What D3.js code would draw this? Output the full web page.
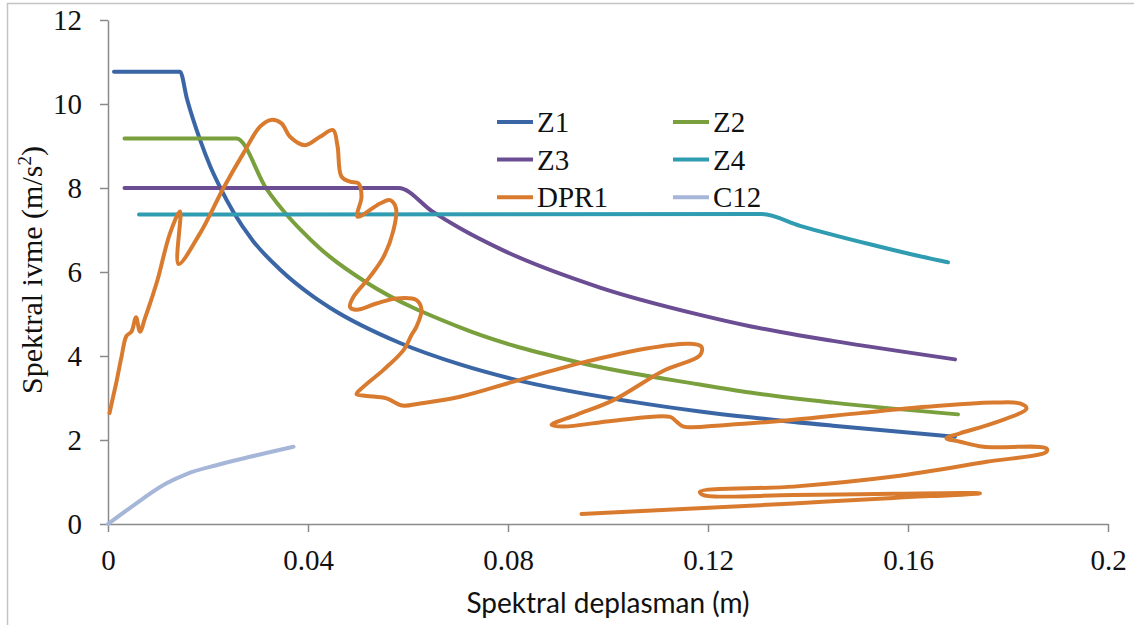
<!DOCTYPE html>
<html>
<head>
<meta charset="utf-8">
<script src="https://cdn.jsdelivr.net/npm/d3@7"></script>
<style>
  body { margin: 0; background: #fff; }
  svg { display: block; }
</style>
</head>
<body>
<svg id="chart"></svg>
<script>
// tick values and labels
const xTicks = [0, 0.04, 0.08, 0.12, 0.16, 0.2];
const xTickLabels = ["0", "0.04", "0.08", "0.12", "0.16", "0.2"];
const yTicks = [0, 2, 4, 6, 8, 10, 12];

const seriesNames = ["Z1", "Z2", "Z3", "Z4", "DPR1", "C12"];

// [Sd (m), Sa (m/s2)]
const z1 = [[0.0012,10.77],[0.0144,10.77],[0.0158,10.12],[0.0184,9.15],[0.0204,8.53],[0.0224,8.02],
  [0.0251,7.42],[0.029,6.74],[0.0344,6.06],[0.041,5.42],[0.0444,5.15],[0.0584,4.31],[0.0704,3.80],
  [0.081,3.45],[0.1044,2.92],[0.1184,2.68],[0.1284,2.54],[0.145,2.34],[0.1694,2.08]];
const z2 = [[0.0033,9.18],[0.0257,9.18],[0.0317,7.98],[0.0357,7.37],[0.0384,7.02],[0.0424,6.56],
  [0.0444,6.36],[0.0517,5.75],[0.0704,4.68],[0.0944,3.84],[0.1184,3.32],[0.1284,3.13],
  [0.145,2.89],[0.17,2.61]];
const z3 = [[0.0033,8.0],[0.0581,8.0],[0.065,7.43],[0.0704,7.04],[0.0784,6.55],[0.0984,5.63],
  [0.1184,4.98],[0.1284,4.71],[0.1384,4.49],[0.145,4.36],[0.1694,3.92]];
const z4 = [[0.0062,7.37],[0.1307,7.38],[0.1384,7.10],[0.1524,6.66],[0.16,6.44],[0.168,6.23]];
const dpr1 = [[0.0003,2.64],[0.0011,3.07],[0.0017,3.39],[0.0027,3.98],[0.0037,4.48],[0.0047,4.58],
  [0.0056,4.92],[0.0064,4.58],[0.0074,4.90],[0.0084,5.25],[0.0099,5.81],[0.0124,6.92],
  [0.0144,7.44],[0.0141,6.19],[0.0184,6.92],[0.0231,8.0],[0.0271,8.83],[0.0304,9.46],
  [0.0326,9.62],[0.0347,9.54],[0.0364,9.22],[0.0394,9.02],[0.0424,9.22],[0.0450,9.38],
  [0.0459,9.0],[0.0467,8.27],[0.0484,8.15],[0.0501,8.11],[0.0507,7.79],[0.0499,7.32],
  [0.0544,7.63],[0.0564,7.71],[0.0576,7.52],[0.0571,7.0],[0.0551,6.36],[0.0524,5.89],
  [0.0491,5.41],[0.0484,5.17],[0.0497,5.10],[0.0537,5.25],[0.0577,5.37],[0.0617,5.33],
  [0.0627,5.10],[0.0617,4.70],[0.0607,4.5],[0.0591,4.14],[0.0551,3.67],[0.0511,3.27],
  [0.0497,3.09],[0.0517,3.05],[0.0557,2.99],[0.0589,2.82],[0.0624,2.87],[0.0704,3.03],
  [0.0811,3.39],[0.0944,3.83],[0.1077,4.18],[0.1164,4.29],[0.1187,4.22],[0.1184,4.02],
  [0.1111,3.65],[0.1011,2.95],[0.0937,2.60],[0.0887,2.36],[0.0911,2.32],[0.1011,2.46],
  [0.1124,2.55],[0.1137,2.44],[0.1151,2.32],[0.1237,2.36],[0.1371,2.48],[0.1504,2.64],
  [0.1637,2.79],[0.1771,2.89],[0.1824,2.87],[0.1837,2.75],[0.1771,2.40],[0.1704,2.16],
  [0.1677,2.04],[0.1704,1.96],[0.1751,1.84],[0.1877,1.80],[0.1877,1.72],[0.1757,1.48],
  [0.1571,1.13],[0.1371,0.89],[0.1184,0.77],[0.1191,0.69],[0.1371,0.69],[0.1571,0.72],
  [0.1744,0.73],[0.1571,0.62],[0.1371,0.49],[0.1171,0.37],[0.0947,0.24]];
const c12 = [[0,0],[0.0047,0.41],[0.0117,0.97],[0.0157,1.19],[0.0217,1.40],[0.0284,1.60],[0.0371,1.84]];

const seriesData = [z1, z2, z3, z4, dpr1, c12];
const colors = ["#3b66a6", "#79a03d", "#6a4d93", "#2f9cb2", "#d97b2f", "#a6b6d9"];

const serif = "Liberation Serif";
const w = 1134, h = 625;
const margin = {left: 108, right: 26, top: 20, bottom: 101};

// everything in the serif face unless told otherwise
const svg = d3.select("#chart")
              .attr("width", w).attr("height", h)
              .attr("font-family", serif);

// outer chart frame
svg.append("rect")
   .attr("x", 7.5).attr("y", 3.5)
   .attr("width", 1200).attr("height", 700)
   .attr("fill", "none")
   .attr("stroke", "#c4c4c4")
   .attr("stroke-width", 1.5);

const xScale = d3.scaleLinear().domain([0, 0.2]).range([margin.left, w - margin.right]);
const yScale = d3.scaleLinear().domain([0, 12]).range([h - margin.bottom, margin.top]);

const xAxis = d3.axisBottom(xScale)
                .tickValues(xTicks)
                .tickFormat((d, i) => xTickLabels[i])
                .tickSize(8).tickSizeOuter(0).tickPadding(17);
const yAxis = d3.axisLeft(yScale)
                .tickValues(yTicks)
                .tickSize(8).tickSizeOuter(0).tickPadding(18);

const gx = svg.append("g")
              .attr("transform", "translate(0," + (h - margin.bottom) + ")")
              .call(xAxis);
const gy = svg.append("g")
              .attr("transform", "translate(" + margin.left + ",0)")
              .call(yAxis);

[gx, gy].forEach(g => {
  g.attr("font-family", serif).attr("font-size", 29);
  g.selectAll("path, line").attr("stroke", "#8a8a8a").attr("stroke-width", 1.5);
  g.selectAll("text").attr("fill", "#111");
});

// x title (sans in the original)
svg.append("g")
   .attr("font-family", "Lato")
   .attr("font-size", 28)
   .append("text")
   .attr("x", (margin.left + w - margin.right) / 2)
   .attr("y", 613)
   .attr("text-anchor", "middle")
   .attr("fill", "#111")
   .text("Spektral deplasman (m)");

// y title
const yTitle = svg.append("g")
   .attr("font-family", serif)
   .attr("font-size", 30)
   .attr("transform", "translate(42,270) rotate(-90)")
   .append("text")
   .attr("text-anchor", "middle")
   .attr("fill", "#111");
yTitle.append("tspan").text("Spektral ivme (m/s");
yTitle.append("tspan").attr("dy", -11).attr("font-size", 19).text("2");
yTitle.append("tspan").attr("dy", 11).text(")");

// lines
const smooth = d3.line()
                 .x(d => xScale(d[0]))
                 .y(d => yScale(d[1]))
                 .curve(d3.curveMonotoneX);
const loose = d3.line()
                .x(d => xScale(d[0]))
                .y(d => yScale(d[1]))
                .curve(d3.curveCatmullRom.alpha(0.5));

seriesData.forEach((data, i) => {
  svg.append("path")
     .datum(data)
     .attr("fill", "none")
     .attr("stroke", colors[i])
     .attr("stroke-width", 4)
     .attr("stroke-linejoin", "round")
     .attr("stroke-linecap", "round")
     .attr("d", seriesNames[i] == "DPR1" ? loose : smooth);
});

// legend, two columns
const legend = svg.append("g")
                  .attr("transform", "translate(497,122)")
                  .attr("font-family", serif)
                  .attr("font-size", 29);
seriesNames.forEach((name, i) => {
  const col = i % 2, row = Math.floor(i / 2);
  const item = legend.append("g")
                     .attr("transform", "translate(" + (col * 176) + "," + (row * 37.6) + ")");
  item.append("line")
      .attr("x1", 0).attr("x2", 36)
      .attr("stroke", colors[i])
      .attr("stroke-width", 4);
  item.append("text")
      .attr("x", 40).attr("y", 10)
      .attr("fill", "#111")
      .text(name);
});
</script>
</body>
</html>
